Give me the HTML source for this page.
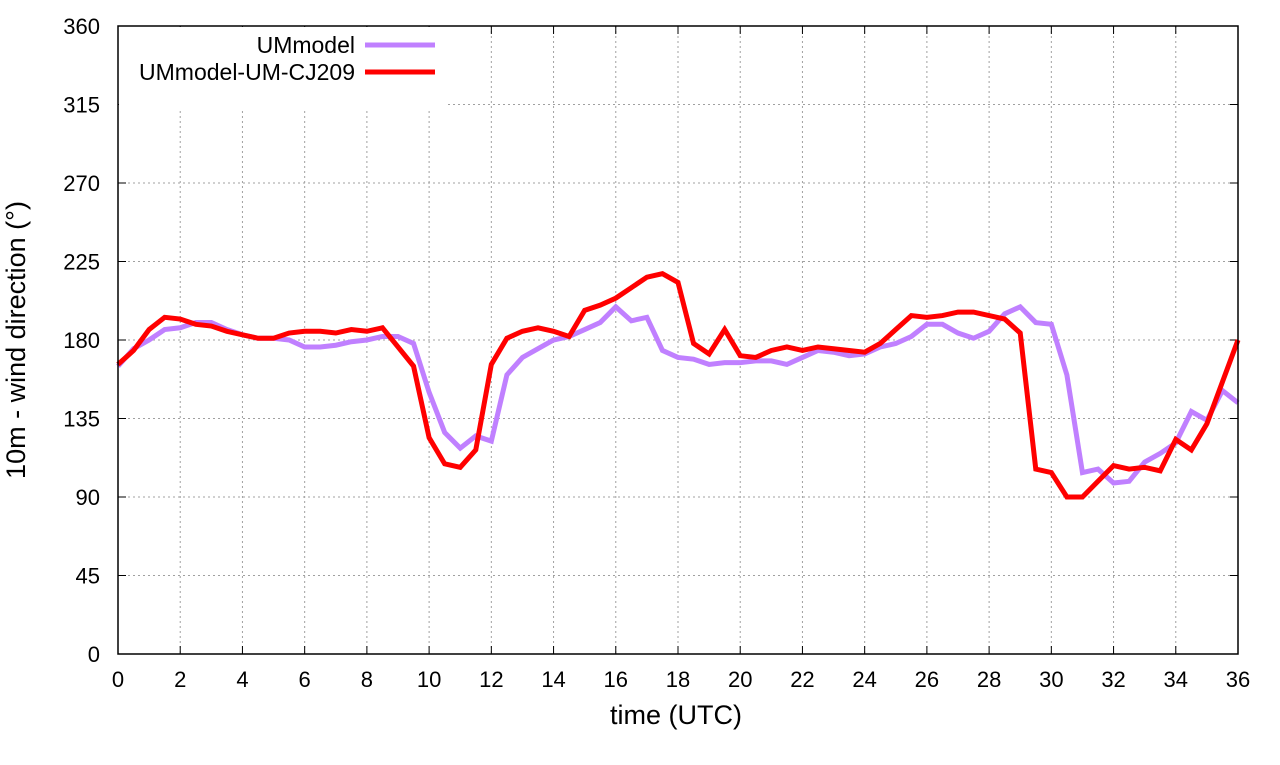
<!DOCTYPE html>
<html><head><meta charset="utf-8"><style>
html,body{margin:0;padding:0;background:#fff;}
svg text{font-family:"Liberation Sans",sans-serif;}
</style></head><body>
<svg id="chart" width="1280" height="760" xmlns="http://www.w3.org/2000/svg">
<g id="grid"></g>
<g id="axes"></g>
<rect x="119" y="27" width="328" height="84" fill="#fff"/>
<g id="series"></g>
<rect x="118" y="26" width="1120" height="628" fill="none" stroke="#000" stroke-width="1.5"/>
<g>
<text x="355" y="53" font-size="23" text-anchor="end">UMmodel</text>
<line x1="365" y1="45" x2="435" y2="45" stroke="#c080ff" stroke-width="5"/>
<text x="355" y="80" font-size="23" text-anchor="end">UMmodel-UM-CJ209</text>
<line x1="365" y1="72" x2="435" y2="72" stroke="#ff0000" stroke-width="5"/>
</g>
<text x="676" y="724" font-size="27" text-anchor="middle">time (UTC)</text>
<text transform="translate(25,340) rotate(-90)" font-size="27" text-anchor="middle">10m - wind direction (°)</text>
</svg>
<script>
const xTicks=[0,2,4,6,8,10,12,14,16,18,20,22,24,26,28,30,32,34,36];
const yTicks=[0,45,90,135,180,225,270,315,360];
const umTimes=[];for(let i=0;i<=72;i++)umTimes.push(i*0.5);
const umModel=[165,175,180,186,187,190,190,186,183,181,181,180,176,176,177,179,180,182,182,178,150,127,118,125,122,160,170,175,180,182,186,190,199,191,193,174,170,169,166,167,167,168,168,166,170,174,173,171,172,176,178,182,189,189,184,181,185,195,199,190,189,160,104,106,98,99,110,115,121,139,134,151,144];
const umCJ209=[166,174,186,193,192,189,188,185,183,181,181,184,185,185,184,186,185,187,176,165,124,109,107,117,166,181,185,187,185,182,197,200,204,210,216,218,213,178,172,186,171,170,174,176,174,176,175,174,173,178,186,194,193,194,196,196,194,192,184,106,104,90,90,99,108,106,107,105,123,117,132,156,180];
const NS="http://www.w3.org/2000/svg";
const X=v=>118+v/36*1120, Y=v=>654-v/360*628;
function mk(tag,attrs,parent){const e=document.createElementNS(NS,tag);for(const k in attrs)e.setAttribute(k,attrs[k]);parent.appendChild(e);return e;}
const grid=document.getElementById('grid'),axes=document.getElementById('axes'),series=document.getElementById('series');
xTicks.forEach(t=>{
  const l=mk('line',{x1:X(t),x2:X(t),y1:26,y2:654,stroke:'#a0a0a0','stroke-dasharray':'2,3'},grid);
  
  
  const tk=mk('path',{d:`M${X(t)},654v-8M${X(t)},26v8`,stroke:'#000'},axes);
  
  
  const tx=mk('text',{x:X(t),y:687,'font-size':22,'text-anchor':'middle'},axes);tx.textContent=t;
  
  
});
yTicks.forEach(t=>{
  const l=mk('line',{x1:118,x2:1238,y1:Y(t),y2:Y(t),stroke:'#a0a0a0','stroke-dasharray':'2,3'},grid);
  
  
  const tk=mk('path',{d:`M118,${Y(t)}h8M1238,${Y(t)}h-8`,stroke:'#000'},axes);
  
  
  const tx=mk('text',{x:100,y:Y(t)+8,'font-size':22,'text-anchor':'end'},axes);tx.textContent=t;
  
  
});
function line(vals,color,name){
  const p=mk('polyline',{points:vals.map((v,i)=>X(umTimes[i])+','+Y(v)).join(' '),fill:'none',stroke:color,'stroke-width':5,'stroke-linejoin':'miter'},series);
  
  
}
line(umModel,'#c080ff','line-ummodel');
line(umCJ209,'#ff0000','line-ummodel-um-cj209');
</script>
</body></html>
